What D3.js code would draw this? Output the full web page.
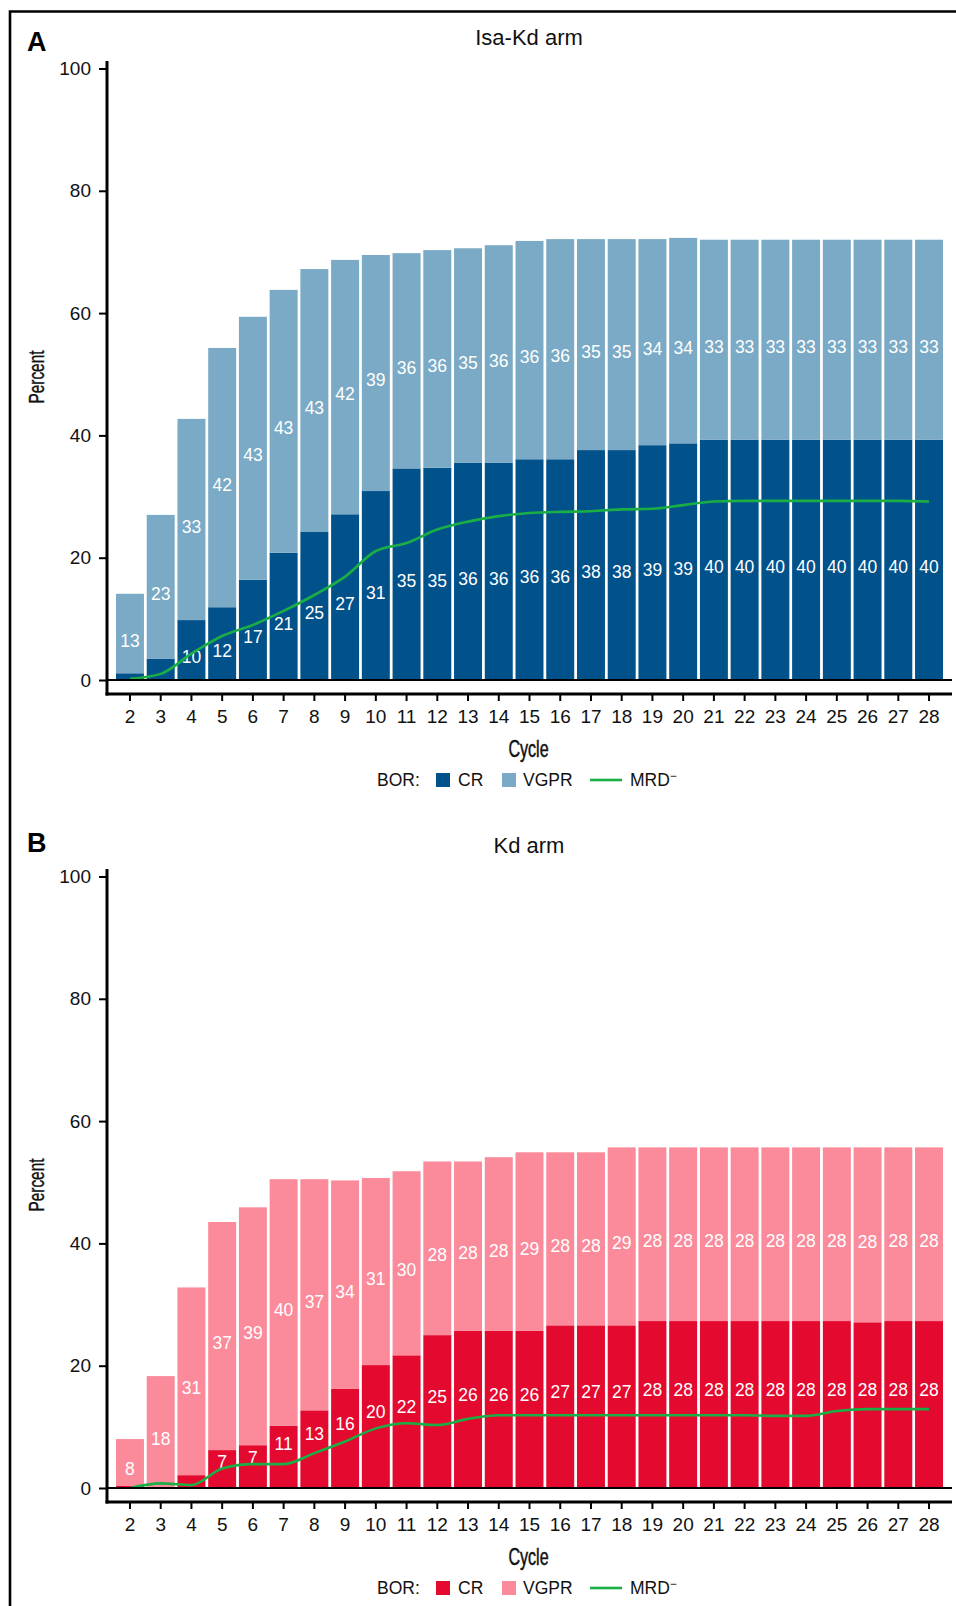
<!DOCTYPE html>
<html>
<head>
<meta charset="utf-8">
<script src="https://cdn.jsdelivr.net/npm/d3@7/dist/d3.min.js"></script>
<style>
  body { margin: 0; background: #fff; }
  svg text { font-family: "Liberation Sans", Arial, Helvetica, sans-serif; }
</style>
</head>
<body>
<script>
// cycles on the x axis
const cycles = [2, 3, 4, 5, 6, 7, 8, 9, 10, 11, 12, 13, 14, 15, 16, 17, 18, 19, 20, 21, 22, 23, 24, 25, 26, 27, 28];
const yTicks = [0, 20, 40, 60, 80, 100];

// Isa-Kd arm (percent)
const isaCR   = [1.1, 3.5, 9.8, 11.9, 16.4, 20.8, 24.2, 27.1, 30.9, 34.6, 34.7, 35.5, 35.5, 36.1, 36.1, 37.6, 37.6, 38.4, 38.7, 39.3, 39.3, 39.3, 39.3, 39.3, 39.3, 39.3, 39.3];
const isaVGPR = [13.0, 23.5, 32.9, 42.4, 43.0, 43.0, 43.0, 41.6, 38.6, 35.2, 35.6, 35.1, 35.6, 35.7, 36.0, 34.5, 34.5, 33.7, 33.6, 32.7, 32.7, 32.7, 32.7, 32.7, 32.7, 32.7, 32.7];
const isaCRLabels   = [null, null, 10, 12, 17, 21, 25, 27, 31, 35, 35, 36, 36, 36, 36, 38, 38, 39, 39, 40, 40, 40, 40, 40, 40, 40, 40];
const isaVGPRLabels = [13, 23, 33, 42, 43, 43, 43, 42, 39, 36, 36, 35, 36, 36, 36, 35, 35, 34, 34, 33, 33, 33, 33, 33, 33, 33, 33];
const isaMRD  = [0.2, 1.0, 4.3, 7.2, 9.0, 11.3, 13.9, 16.9, 21.1, 22.4, 24.6, 25.9, 26.8, 27.3, 27.5, 27.6, 27.9, 28.0, 28.6, 29.2, 29.3, 29.3, 29.3, 29.3, 29.3, 29.3, 29.2];

// Kd arm (percent)
const kdCR   = [0.4, 0, 2.1, 6.2, 7.0, 10.2, 12.7, 16.2, 20.1, 21.7, 25.0, 25.7, 25.7, 25.7, 26.6, 26.6, 26.6, 27.3, 27.3, 27.3, 27.3, 27.3, 27.3, 27.3, 27.1, 27.3, 27.3];
const kdVGPR = [7.6, 18.3, 30.7, 37.3, 38.9, 40.3, 37.8, 34.1, 30.6, 30.1, 28.4, 27.7, 28.4, 29.2, 28.3, 28.3, 29.1, 28.4, 28.4, 28.4, 28.4, 28.4, 28.4, 28.4, 28.6, 28.4, 28.4];
const kdCRLabels   = [null, null, null, 7, 7, 11, 13, 16, 20, 22, 25, 26, 26, 26, 27, 27, 27, 28, 28, 28, 28, 28, 28, 28, 28, 28, 28];
const kdVGPRLabels = [8, 18, 31, 37, 39, 40, 37, 34, 31, 30, 28, 28, 28, 29, 28, 28, 29, 28, 28, 28, 28, 28, 28, 28, 28, 28, 28];
const kdMRD  = [0, 0.75, 0.5, 3.2, 3.9, 3.9, 5.7, 7.6, 9.75, 10.6, 10.3, 11.3, 11.9, 11.9, 11.9, 11.9, 11.9, 11.9, 11.9, 11.9, 11.9, 11.8, 11.8, 12.6, 12.9, 12.9, 12.9];

const W = 956, H = 1606;
const green = '#1aaf45';

const svg = d3.select('body').append('svg')
    .attr('width', W).attr('height', H);

// outer frame (only left and top edges visible)
svg.append('path')
    .attr('d', `M10,${H} L10,11.5 L${W},11.5`)
    .attr('fill', 'none').attr('stroke', '#000').attr('stroke-width', 2.6);

const x = d3.scaleBand()
    .domain(cycles)
    .range([114.6, 944.4])
    .paddingInner(0.09)
    .paddingOuter(0.045);

function drawPanel(p) {
  const g = svg.append('g');
  const y = d3.scaleLinear().domain([0, 100]).range([p.y0, p.y0 - 611.5]);

  const rows = cycles.map((c, i) => ({ cycle: c, cr: p.cr[i], vgpr: p.vgpr[i], crLab: p.crLab[i], vgprLab: p.vgprLab[i] }));
  const series = d3.stack().keys(['cr', 'vgpr'])(rows);
  const fill = { cr: p.colCR, vgpr: p.colVGPR };

  // letter + title
  g.append('text').attr('x', 27).attr('y', p.letterY)
      .attr('font-size', 27).attr('font-weight', 'bold').text(p.letter);
  g.append('text').attr('x', 529).attr('y', p.y0 - 635.5)
      .attr('text-anchor', 'middle').attr('font-size', 22).attr('fill', '#111').text(p.title);

  // bars
  g.selectAll('g.layer').data(series).join('g')
      .attr('class', 'layer')
      .attr('fill', s => fill[s.key])
    .selectAll('rect').data(s => s).join('rect')
      .attr('x', d => x(d.data.cycle))
      .attr('width', x.bandwidth())
      .attr('y', d => y(d[1]))
      .attr('height', d => y(d[0]) - y(d[1]));

  // value labels inside the segments
  series.forEach(s => {
    g.append('g').selectAll('text')
      .data(s.filter(d => d.data[s.key === 'cr' ? 'crLab' : 'vgprLab'] != null))
      .join('text')
        .attr('x', d => x(d.data.cycle) + x.bandwidth() / 2)
        .attr('y', d => {
          const mid = (y(d[0]) + y(d[1])) / 2;
          return mid + p.shift[s.key](y(d[0]) - y(d[1]));
        })
        .attr('dy', '0.35em')
        .attr('text-anchor', 'middle')
        .attr('font-size', 17.5)
        .attr('fill', '#fff')
        .text(d => d.data[s.key === 'cr' ? 'crLab' : 'vgprLab']);
  });

  // MRD- line
  const line = d3.line()
      .x((d, i) => x(cycles[i]) + x.bandwidth() / 2)
      .y(d => y(d))
      .curve(d3.curveMonotoneX);
  g.append('path').datum(p.mrd)
      .attr('d', line)
      .attr('fill', 'none').attr('stroke', green).attr('stroke-width', 2.6);

  // zero line
  g.append('line').attr('x1', 107).attr('x2', 952)
      .attr('y1', y(0)).attr('y2', y(0))
      .attr('stroke', '#000').attr('stroke-width', 2.2);

  // y axis
  const ya = g.append('g').attr('transform', 'translate(107,0)')
      .call(d3.axisLeft(y).tickValues(yTicks).tickSize(8).tickPadding(8));
  ya.select('.domain').remove();
  ya.selectAll('.tick line').attr('stroke-width', 2);
  ya.selectAll('.tick text').attr('font-size', 19).attr('fill', '#111')
      .style('font-family', '"Liberation Sans", Arial, sans-serif');
  g.append('line').attr('x1', 107).attr('x2', 107)
      .attr('y1', y(0) - 619).attr('y2', y(0) + 15.5)
      .attr('stroke', '#000').attr('stroke-width', 3);

  // x axis (offset below the zero line)
  const xa = g.append('g').attr('transform', `translate(0,${y(0) + 14})`)
      .call(d3.axisBottom(x).tickSize(7).tickPadding(8.5));
  xa.select('.domain').remove();
  xa.selectAll('.tick line').attr('stroke-width', 2);
  xa.selectAll('.tick text').attr('font-size', 19).attr('fill', '#111')
      .style('font-family', '"Liberation Sans", Arial, sans-serif');
  g.append('line').attr('x1', 105.5).attr('x2', 952)
      .attr('y1', y(0) + 14).attr('y2', y(0) + 14)
      .attr('stroke', '#000').attr('stroke-width', 3);

  // axis titles (condensed, a touch heavier)
  g.append('text')
      .attr('transform', `translate(44,${y(0) - 303}) rotate(-90) scale(0.7,1)`)
      .attr('text-anchor', 'middle').attr('font-size', 22).attr('fill', '#111')
      .attr('stroke', '#111').attr('stroke-width', 0.4)
      .text('Percent');
  g.append('text')
      .attr('transform', `translate(528.5,${y(0) + 77}) scale(0.7,1)`)
      .attr('text-anchor', 'middle').attr('font-size', 23).attr('fill', '#111')
      .attr('stroke', '#111').attr('stroke-width', 0.5)
      .text('Cycle');

  // legend
  const ly = y(0) + 100;
  const lg = g.append('g').attr('font-size', 17.5).attr('fill', '#111');
  lg.append('text').attr('x', 377).attr('y', ly).attr('dy', '0.36em').text('BOR:');
  lg.append('rect').attr('x', 436).attr('y', ly - 7).attr('width', 14).attr('height', 14).attr('fill', p.colCR);
  lg.append('text').attr('x', 458).attr('y', ly).attr('dy', '0.36em').text('CR');
  lg.append('rect').attr('x', 502).attr('y', ly - 7).attr('width', 14).attr('height', 14).attr('fill', p.colVGPR);
  lg.append('text').attr('x', 523).attr('y', ly).attr('dy', '0.36em').text('VGPR');
  lg.append('line').attr('x1', 590).attr('x2', 622).attr('y1', ly).attr('y2', ly)
      .attr('stroke', green).attr('stroke-width', 2.6);
  const mt = lg.append('text').attr('x', 630).attr('y', ly).attr('dy', '0.36em').text('MRD');
  mt.append('tspan').attr('dy', '-0.55em').attr('font-size', 12).text('\u2212');
}

drawPanel({
  letter: 'A', letterY: 51, title: 'Isa-Kd arm', y0: 680,
  cr: isaCR, vgpr: isaVGPR, crLab: isaCRLabels, vgprLab: isaVGPRLabels, mrd: isaMRD,
  colCR: '#01518a', colVGPR: '#7aaac5',
  shift: { cr: h => 7, vgpr: h => 7 }
});

drawPanel({
  letter: 'B', letterY: 852, title: 'Kd arm', y0: 1488,
  cr: kdCR, vgpr: kdVGPR, crLab: kdCRLabels, vgprLab: kdVGPRLabels, mrd: kdMRD,
  colCR: '#e4092e', colVGPR: '#fb8a9b',
  shift: { cr: h => -Math.min(15, h * 0.2), vgpr: h => 7 }
});
</script>
</body>
</html>
